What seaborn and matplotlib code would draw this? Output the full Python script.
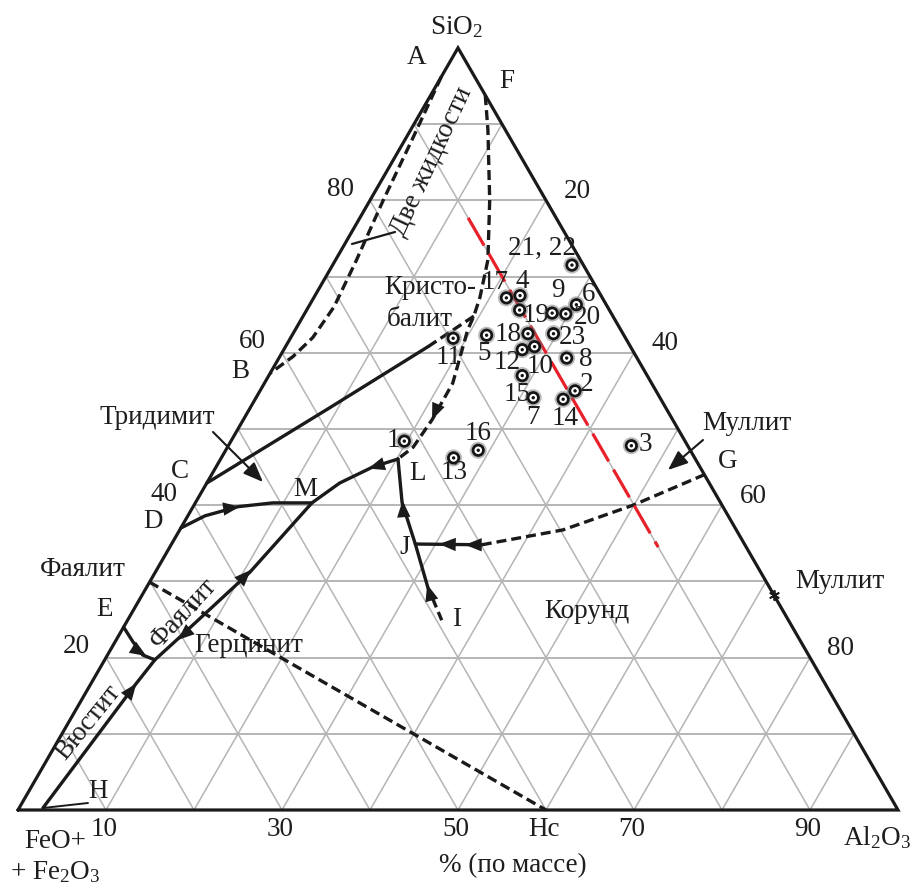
import numpy as np
import pandas as pd
import matplotlib
matplotlib.use("Agg")
import matplotlib.pyplot as plt
import seaborn as sns

# ---------------- data (SiO2 %, Al2O3 %; FeO+Fe2O3 = rest) ----------------
sample_labels = ['21, 22', '17', '4', '19', '9', '20', '6', '11', '5', '18', '23',
                 '12', '10', '8', '15', '7', '14', '2', '3', '1', '13', '16']
sample_sio2 = [71.5, 67.2, 67.5, 65.6, 65.2, 65.1, 66.3, 61.9, 62.3, 62.5, 62.5,
               60.4, 60.8, 59.3, 57.0, 54.1, 53.9, 55.0, 47.8, 48.4, 46.2, 47.2]
sample_al2o3 = [27.2, 21.9, 23.3, 24.2, 28.1, 29.7, 30.3, 18.5, 22.1, 26.7, 29.6,
                27.1, 28.3, 32.7, 28.8, 31.5, 35.0, 35.8, 45.8, 19.7, 26.4, 28.7]
# label offsets (pixels) relative to the sample point
label_dx = [-30, -11, 2, 17, 6, 22, 12, -5, -2, -20, 19, -15, 6, 19, -5, 0, 2, 12, 14, -11, 1, 0]
label_dy = [-17, -15, -14, 5, -23, 4, -10, 19, 18, 1, 4, 13, 20, 1, 19, 20, 19, -6, -1, -1, 15, -17]

# boundary curves
two_liq_A_sio2 = [96.2, 88.0, 80.0, 72.0, 66.0, 62.0, 59.5, 57.3]
two_liq_A_al2o3 = [0.0, 0.8, 1.5, 2.4, 2.9, 2.5, 1.5, 0.0]
two_liq_F_sio2 = [93.8, 89.2, 80.0, 72.2, 67.3, 64.8, 63.0, 56.0, 51.2, 47.6, 46.06]
two_liq_F_al2o3 = [6.2, 8.8, 13.6, 17.3, 18.85, 19.4, 19.6, 21.4, 21.45, 21.1, 20.15]
line_C_sio2 = [42.9, 52.8, 60.8]
line_C_al2o3 = [0.0, 9.05, 16.2]
line_C_dash_sio2 = [60.8, 64.8]
line_C_dash_al2o3 = [16.2, 19.4]
line_DM_sio2 = [37.0, 38.6, 39.8, 40.3, 40.3]
line_DM_al2o3 = [0.0, 1.95, 5.1, 8.8, 13.25]
line_HL_sio2 = [0.26, 16.4, 19.7, 22.7, 31.2, 40.3, 42.9, 45.0, 46.06]
line_HL_al2o3 = [2.7, 5.1, 5.7, 7.05, 10.75, 13.25, 15.1, 17.8, 20.15]
line_E_sio2 = [24.0, 22.05, 20.34, 19.7]
line_E_al2o3 = [0.0, 2.05, 4.0, 5.7]
line_LJI_sio2 = [46.06, 40.3, 34.9, 29.1, 27.8]
line_LJI_al2o3 = [20.15, 23.5, 27.7, 32.05, 33.2]
line_I_dash_sio2 = [27.8, 24.9]
line_I_dash_al2o3 = [33.2, 35.7]
line_JG_sio2 = [34.9, 34.8]
line_JG_al2o3 = [27.7, 35.3]
line_JG_dash_sio2 = [34.8, 36.75, 40.0, 44.0]
line_JG_dash_al2o3 = [35.3, 43.55, 49.9, 56.0]
fay_hc_sio2 = [29.9, 0.0]
fay_hc_al2o3 = [0.0, 60.0]
red_sio2 = [77.7, 34.5]
red_al2o3 = [12.3, 55.5]
mullite_sio2 = [28.2]
mullite_al2o3 = [71.8]

# arrowheads on curves: tail -> tip (SiO2, Al2O3)
arrow_tail_sio2 = [53.0, 39.5, 15.0, 23.5, 30.0, 45.4, 39.0, 28.0, 34.85, 34.8, 21.0]
arrow_tail_al2o3 = [21.2, 3.6, 4.9, 7.6, 10.2, 18.8, 24.3, 32.9, 32.0, 35.0, 3.0]
arrow_tip_sio2 = [51.2, 39.8, 16.6, 22.3, 31.5, 44.8, 40.6, 29.6, 34.9, 34.8, 20.2]
arrow_tip_al2o3 = [21.45, 5.3, 5.15, 7.0, 10.7, 17.4, 23.4, 31.7, 30.4, 33.4, 4.5]

grid_levels = [10, 20, 30, 40, 50, 60, 70, 80, 90]
bottom_ticks = [10, 30, 50, 60, 70, 90]
bottom_tick_labels = ['10', '30', '50', 'Hc', '70', '90']
side_ticks = [20, 40, 60, 80]

# ---------------- geometry ----------------
X0, Y0, SIDE = 18.0, 810.0, 880.0
HT = SIDE * np.sqrt(3) / 2


def tern(sio2, al2o3):
    s = np.asarray(sio2, float) / 100.0
    a = np.asarray(al2o3, float) / 100.0
    return X0 + SIDE * (a + s / 2), Y0 - HT * s


sns.set_theme(style="white")
plt.rcParams['font.family'] = ['Liberation Serif', 'DejaVu Serif']
plt.rcParams['mathtext.default'] = 'regular'

fig = plt.figure(figsize=(9.14, 8.92), dpi=100)
ax = fig.add_axes([0, 0, 1, 1])
ax.set_xlim(0, 914)
ax.set_ylim(892, 0)
ax.axis('off')

FS = 19.5
TC = '#1e1e1e'
GRID = '#b5b5b5'
LC = '#1a1a1a'

# grid
for g in grid_levels:
    x, y = tern([g, g], [0, 100 - g]); ax.plot(x, y, color=GRID, lw=1.4, zorder=1)
    x, y = tern([0, 100 - g], [g, g]); ax.plot(x, y, color=GRID, lw=1.1, zorder=1)
    x, y = tern([0, 100 - g], [100 - g, 0]); ax.plot(x, y, color=GRID, lw=1.1, zorder=1)

# triangle
x, y = tern([0, 0, 100, 0], [0, 100, 0, 0])
ax.plot(x, y, color=LC, lw=2.3, zorder=3, solid_joinstyle='miter')


def curve(s, a, dashed=False, color=LC, lw=2.4, dash=(3.0, 1.5)):
    x, y = tern(s, a)
    df = pd.DataFrame({'x': x, 'y': y})
    n0 = len(ax.lines)
    sns.lineplot(data=df, x='x', y='y', sort=False, estimator=None, color=color,
                 lw=lw, ax=ax, zorder=4, legend=False)
    ln = ax.lines[n0]
    if dashed:
        ln.set_dashes(dash)


curve(two_liq_A_sio2, two_liq_A_al2o3, dashed=True)
curve(two_liq_F_sio2, two_liq_F_al2o3, dashed=True)
curve(line_C_sio2, line_C_al2o3)
curve(line_C_dash_sio2, line_C_dash_al2o3, dashed=True)
curve(line_DM_sio2, line_DM_al2o3)
curve(line_HL_sio2, line_HL_al2o3)
curve(line_E_sio2, line_E_al2o3)
curve(line_LJI_sio2, line_LJI_al2o3)
curve(line_I_dash_sio2, line_I_dash_al2o3, dashed=True)
curve(line_JG_sio2, line_JG_al2o3)
curve(line_JG_dash_sio2, line_JG_dash_al2o3, dashed=True)
curve(fay_hc_sio2, fay_hc_al2o3, dashed=True)
curve(red_sio2, red_al2o3, dashed=True, color='#e8202a', lw=2.3, dash=(10, 3))

# arrowheads on curves
tx, ty = tern(arrow_tail_sio2, arrow_tail_al2o3)
hx, hy = tern(arrow_tip_sio2, arrow_tip_al2o3)
for i in range(len(tx)):
    ax.annotate('', xy=(hx[i], hy[i]), xytext=(tx[i], ty[i]),
                arrowprops=dict(arrowstyle='-|>,head_length=0.6,head_width=0.24',
                                color=LC, lw=0, mutation_scale=20,
                                shrinkA=0, shrinkB=0), zorder=6)

# mullite point on the binary
mx, my = tern(mullite_sio2, mullite_al2o3)
ax.scatter(mx, my, marker=(6, 2, 0), s=45, color=LC, lw=1.3, zorder=6)

# sample points (bull's-eye markers)
px, py = tern(sample_sio2, sample_al2o3)
pdf = pd.DataFrame({'x': px, 'y': py})
sns.scatterplot(data=pdf, x='x', y='y', s=150, color='#6a6a6a', alpha=0.45,
                edgecolor='none', ax=ax, zorder=7, legend=False)
sns.scatterplot(data=pdf, x='x', y='y', s=90, color='#151515',
                edgecolor='none', ax=ax, zorder=8, legend=False)
sns.scatterplot(data=pdf, x='x', y='y', s=30, color='white',
                edgecolor='none', ax=ax, zorder=9, legend=False)
sns.scatterplot(data=pdf, x='x', y='y', s=6, color='#151515',
                edgecolor='none', ax=ax, zorder=10, legend=False)
for lab, x, y, dx, dy in zip(sample_labels, px, py, label_dx, label_dy):
    ax.text(x + dx, y + dy, lab, fontsize=FS, color=TC, ha='center', va='center', zorder=11)

# axis tick labels
for v, lab in zip(bottom_ticks, bottom_tick_labels):
    x, y = tern(0, v)
    ax.text(x - 2, y + 19, lab, fontsize=FS, color=TC, ha='center', va='center')
for v in side_ticks:
    x, y = tern(v, 0)
    ax.text(x - 30, y - 11, str(v), fontsize=FS, color=TC, ha='center', va='center')
    x, y = tern(100 - v, v)
    ax.text(x + 31, y - 9, str(v), fontsize=FS, color=TC, ha='center', va='center')


def T(x, y, s, rot=0, **kw):
    ax.text(x, y, s, fontsize=kw.pop('fs', FS), color=TC, ha=kw.pop('ha', 'center'),
            va='center', rotation=rot, rotation_mode='anchor', **kw)


T(456, 27, 'SiO$_2$')
T(417, 58, 'A')
T(507, 82, 'F')
T(432, 162, 'Две жидкости', rot=65)
T(430, 288, 'Кристо-')
T(420, 320, 'балит')
T(157, 418, 'Тридимит')
T(180, 472, 'C')
T(153, 521, 'D')
T(305, 489, 'M')
T(240, 372, 'B')
T(83, 570, 'Фаялит')
T(105, 610, 'E')
T(183, 613, 'Фаялит', rot=47)
T(249, 645, 'Герцинит')
T(88, 722, 'Вюстит', rot=51)
T(98, 792, 'H')
T(418, 474, 'L')
T(405, 547, 'J')
T(457, 619, 'I')
T(587, 611, 'Корунд')
T(747, 424, 'Муллит')
T(728, 461, 'G')
T(840, 582, 'Муллит')
T(55, 842, 'FeO+')
T(55, 872, '+ Fe$_2$O$_3$')
T(877, 838, 'Al$_2$O$_3$')
T(513, 866, '% (по массе)')

# leader lines
ax.plot([352, 395], [244, 232], color=LC, lw=1.6, zorder=5)
ax.plot([43, 88], [808, 803], color=LC, lw=1.4, zorder=5)
ax.annotate('', xy=(263, 482), xytext=(213, 432),
            arrowprops=dict(arrowstyle='-|>,head_length=0.6,head_width=0.24',
                            color=LC, lw=1.5, mutation_scale=20, shrinkA=0, shrinkB=0))
ax.annotate('', xy=(668, 470), xytext=(703, 440),
            arrowprops=dict(arrowstyle='-|>,head_length=0.6,head_width=0.24',
                            color=LC, lw=1.5, mutation_scale=20, shrinkA=0, shrinkB=0))

fig.savefig('out.png', dpi=100)
